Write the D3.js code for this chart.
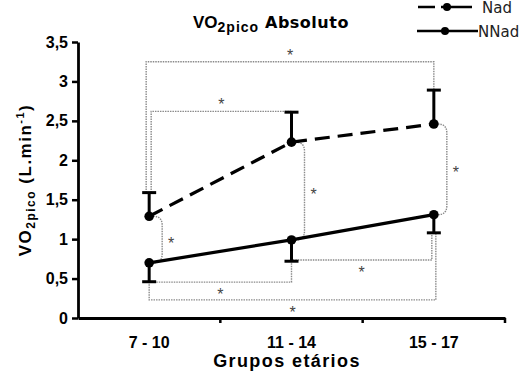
<!DOCTYPE html>
<html>
<head>
<meta charset="utf-8">
<script src="https://cdn.jsdelivr.net/npm/d3@7"></script>
<style>
  body { margin: 0; background: #fff; }
  svg { display: block; }
</style>
</head>
<body>
<script>
'use strict';

// age groups and means / SD (L.min-1)
const groups = ['7 - 10', '11 - 14', '15 - 17'];
const nadMean = [1.29, 2.23, 2.46];
const nadErr = [0.30, 0.38, 0.43];
const nnadMean = [0.70, 0.99, 1.31];
const nnadErr = [0.24, 0.27, 0.23];
const yTicks = [0, 0.5, 1, 1.5, 2, 2.5, 3, 3.5];

// significance brackets between age groups: [group a, group b, series, level]
const trendBrackets = [
  [0, 2, 'Nad', 3.25],
  [0, 1, 'Nad', 2.62],
  [0, 1, 'NNad', 0.455],
  [1, 2, 'NNad', 0.735],
  [0, 2, 'NNad', 0.23]
];
// Nad vs NNad inside each group
const pairBrackets = [0, 1, 2];

(function() {
  const width = 522;
  const height = 372;
  const axisFont = '"Liberation Sans", Arial, sans-serif';

  const svg = d3
    .select('body')
    .append('svg')
    .attr('width', width)
    .attr('height', height);

  const x = d3.scaleBand().domain(groups).range([78, 505]).padding(0);
  const xc = i => x(groups[i]) + x.bandwidth() / 2;
  const y = d3.scaleLinear().domain([0, 3.5]).range([318, 42]);

  // ends of the error bars (up for Nad, down for NNad)
  const capOf = (series, i) =>
    series === 'Nad' ? nadMean[i] + nadErr[i] : nnadMean[i] - nnadErr[i];

  // asterisk centred on (cx, cy)
  function star(cx, cy) {
    svg.append('text')
      .attr('x', cx)
      .attr('y', cy + 9)
      .attr('text-anchor', 'middle')
      .attr('font-family', axisFont)
      .attr('font-size', 16)
      .attr('fill', '#444')
      .text('*');
  }

  // gray dotted brackets
  const dots = svg.append('g')
    .attr('fill', 'none')
    .attr('stroke', '#8a8a8a')
    .attr('stroke-width', 1.4)
    .attr('stroke-dasharray', '1.5,1');

  // small x nudges so overlapping verticals sit side by side
  const nudge = [[-3, 0], [2, 0], [0, 0], [0, -2], [0, 2]];

  trendBrackets.forEach((b, k) => {
    const xa = xc(b[0]) + nudge[k][0];
    const xb = xc(b[1]) + nudge[k][1];
    const ya = y(capOf(b[2], b[0]));
    const yb = y(capOf(b[2], b[1]));
    const yl = y(b[3]);
    dots.append('path')
      .attr('d', `M${xa},${ya}V${yl}H${xb}V${yb}`);
    star((xa + xb) / 2, b[2] === 'Nad' ? yl - 10 : yl + 9);
  });

  pairBrackets.forEach(i => {
    const x0 = xc(i);
    const y1 = y(nadMean[i]);
    const y2 = y(nnadMean[i]);
    const r = 9;
    dots.append('path')
      .attr('d', `M${x0 + 4},${y1}Q${x0 + 13},${y1} ${x0 + 13},${y1 + r}` +
        `V${y2 - r}Q${x0 + 13},${y2} ${x0 + 4},${y2}`);
    star(x0 + 22, (y1 + y2) / 2);
  });

  // axes
  const yAxis = d3.axisLeft(y)
    .tickValues(yTicks)
    .tickSize(6)
    .tickSizeOuter(0)
    .tickPadding(4)
    .tickFormat(d => String(d).replace('.', ','));

  const gy = svg.append('g')
    .attr('transform', 'translate(78,0)')
    .call(yAxis);

  const xAxis = d3.axisBottom(x)
    .tickSize(0)
    .tickSizeOuter(0)
    .tickPadding(19);

  const gx = svg.append('g')
    .attr('transform', 'translate(0,318)')
    .call(xAxis);

  // tick marks between the groups
  gx.selectAll('.sep')
    .data(groups)
    .enter()
    .append('line')
    .attr('class', 'sep')
    .attr('x1', d => x(d) + x.bandwidth())
    .attr('x2', d => x(d) + x.bandwidth())
    .attr('y1', 0)
    .attr('y2', 5)
    .attr('stroke', '#000')
    .attr('stroke-width', 2.5);

  [gx, gy].forEach(g => {
    g.attr('font-family', axisFont)
      .attr('font-size', 16)
      .attr('font-weight', 'bold');
    g.select('.domain').attr('stroke-width', 2.8);
    g.selectAll('.tick line').attr('stroke-width', 2.5);
    g.selectAll('.tick text').attr('fill', '#000');
  });

  // error bars
  const bars = svg.append('g')
    .attr('stroke', '#000')
    .attr('stroke-width', 3);

  groups.forEach((g, i) => {
    [['Nad', nadMean[i]], ['NNad', nnadMean[i]]].forEach(s => {
      const ye = y(capOf(s[0], i));
      bars.append('line')
        .attr('x1', xc(i)).attr('x2', xc(i))
        .attr('y1', y(s[1])).attr('y2', ye);
      bars.append('line')
        .attr('x1', xc(i) - 7).attr('x2', xc(i) + 7)
        .attr('y1', ye).attr('y2', ye);
    });
  });

  // lines and markers
  const line = d3.line()
    .x((d, i) => xc(i))
    .y(d => y(d));

  svg.append('path')
    .datum(nadMean)
    .attr('d', line)
    .attr('fill', 'none')
    .attr('stroke', '#000')
    .attr('stroke-width', 3.2)
    .attr('stroke-dasharray', '15,8');

  svg.append('path')
    .datum(nnadMean)
    .attr('d', line)
    .attr('fill', 'none')
    .attr('stroke', '#000')
    .attr('stroke-width', 3.2);

  [nadMean, nnadMean].forEach(series => {
    svg.selectAll(null)
      .data(series)
      .enter()
      .append('circle')
      .attr('cx', (d, i) => xc(i))
      .attr('cy', d => y(d))
      .attr('r', 4.8)
      .attr('fill', '#000');
  });

  // title
  const title = svg.append('text')
    .attr('x', 193)
    .attr('y', 28)
    .attr('font-family', axisFont)
    .attr('font-weight', 'bold')
    .attr('fill', '#000');
  title.append('tspan').attr('font-size', 17).text('VO');
  title.append('tspan')
    .attr('font-size', 14)
    .attr('letter-spacing', 1)
    .attr('dy', 4)
    .text('2pico');
  title.append('tspan')
    .attr('x', 265)
    .attr('dy', -4)
    .attr('font-size', 16)
    .attr('font-family', '"DejaVu Sans", sans-serif')
    .attr('letter-spacing', 0.5)
    .text('Absoluto');

  // axis titles
  const yLabel = svg.append('text')
    .attr('transform', 'translate(31,180)rotate(-90)')
    .attr('text-anchor', 'middle')
    .attr('font-family', axisFont)
    .attr('font-weight', 'bold')
    .attr('font-size', 17)
    .attr('letter-spacing', 1.5);
  yLabel.append('tspan').text('VO');
  yLabel.append('tspan').attr('font-size', 12).attr('dy', 4).text('2pico');
  yLabel.append('tspan').attr('dy', -4).text(' (L.min');
  yLabel.append('tspan').attr('font-size', 11).attr('dy', -7).text('-1');
  yLabel.append('tspan').attr('dy', 7).text(')');

  svg.append('text')
    .attr('x', 287)
    .attr('y', 367)
    .attr('text-anchor', 'middle')
    .attr('font-family', axisFont)
    .attr('font-weight', 'bold')
    .attr('font-size', 18)
    .attr('letter-spacing', 1.4)
    .text('Grupos etários');

  // legend
  const legend = [
    { name: 'Nad', y: 7, x1: 418, x2: 472, mx: 447, tx: 482, dash: '17,6,31,0' },
    { name: 'NNad', y: 31, x1: 417, x2: 478, mx: 445, tx: 478, dash: null }
  ];
  legend.forEach(l => {
    svg.append('line')
      .attr('x1', l.x1).attr('x2', l.x2)
      .attr('y1', l.y).attr('y2', l.y)
      .attr('stroke', '#000')
      .attr('stroke-width', 2.5)
      .attr('stroke-dasharray', l.dash);
    svg.append('circle')
      .attr('cx', l.mx).attr('cy', l.y).attr('r', 4)
      .attr('fill', '#000');
    svg.append('text')
      .attr('x', l.tx)
      .attr('y', l.y + 6)
      .attr('font-family', '"DejaVu Sans", sans-serif')
      .attr('font-size', 15)
      .attr('fill', '#222')
      .text(l.name);
  });
})();
</script>
</body>
</html>
